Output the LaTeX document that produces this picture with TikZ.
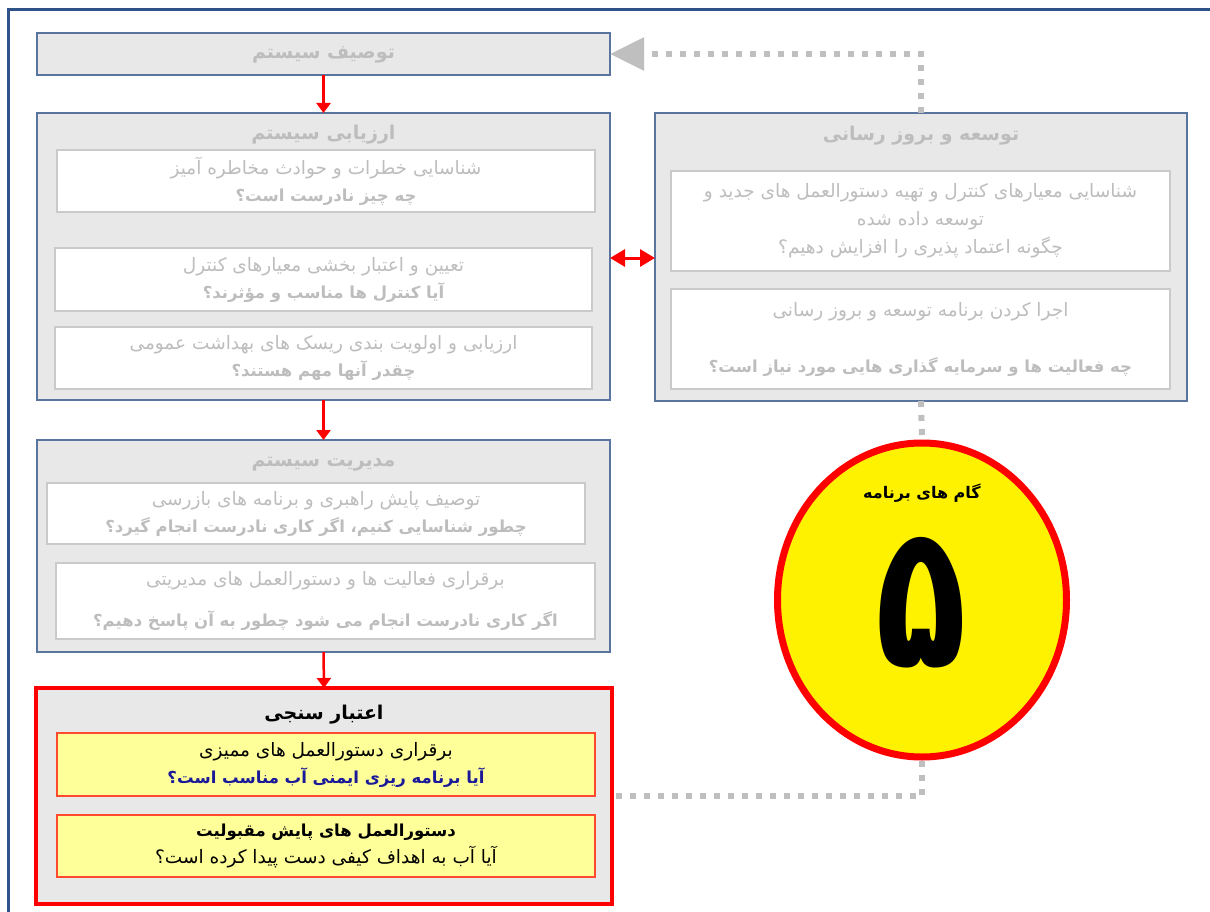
\documentclass[tikz,border=0pt]{standalone}
\usepackage{fontspec}
\usetikzlibrary{shapes.geometric,arrows.meta}
\TeXXeTstate=1
\newfontfamily\arabicfont[Script=Arabic]{DejaVu Sans}
\newcommand\fa[1]{\beginR #1\endR}
\newcommand\faq[1]{{\fontsize{16.5}{27}\selectfont\bfseries\beginR #1\endR}}
\definecolor{frameblue}{HTML}{2F5289}
\definecolor{boxborder}{HTML}{5A74A0}
\definecolor{boxfill}{HTML}{E8E8E8}
\definecolor{subborder}{HTML}{CACACA}
\definecolor{fadetext}{HTML}{BDBDBD}
\definecolor{dotgray}{HTML}{BFBFBF}
\definecolor{lightyellow}{HTML}{FFFF99}
\definecolor{navytext}{HTML}{1A1A99}
\definecolor{suborange}{HTML}{FF4A30}
\tikzset{
  bigbox/.style={draw=boxborder, line width=1.5pt, fill=boxfill, inner sep=0pt, outer sep=0pt},
  subbox/.style={draw=subborder, line width=1.8pt, fill=white, inner sep=0pt, outer sep=0pt,
    align=center, text=fadetext, font=\arabicfont\fontsize{18.5}{27}\selectfont},
  ybox/.style={draw=suborange, line width=1.6pt, fill=lightyellow, inner sep=0pt, outer sep=0pt,
    align=center, text=black, font=\arabicfont\fontsize{18.5}{27}\selectfont},
  boxtitle/.style={font=\arabicfont\fontsize{19}{22}\selectfont\bfseries, text=fadetext, inner sep=0pt},
  flow/.style={draw=red, line width=2.5pt, -{Triangle[length=10pt,width=14pt]}},
  dblflow/.style={draw=red, line width=3pt, {Triangle[length=15pt,width=17pt]}-{Triangle[length=15pt,width=17pt]}},
  dots/.style={draw=dotgray, line width=6pt, dash pattern=on 6pt off 8pt},
}
\begin{document}
\begin{tikzpicture}[x=1pt,y=-1pt]
\useasboundingbox (0,0) rectangle (1210,912);
% outer frame (top and left edges)
\draw[frameblue, line width=3pt] (8,912) -- (8,10) -- (1210,10);

% system description
\node[bigbox, minimum width=573pt, minimum height=42pt] (sysdesc) at (323.5,54) {};
\node[boxtitle] (sysdesctitle) at (323.5,55) {\fa{توصیف سیستم}};

% system assessment
\node[bigbox, minimum width=573pt, minimum height=287pt] (assess) at (323.5,256.5) {};
\node[boxtitle] (assesstitle) at (323.5,135) {\fa{ارزیابی سیستم}};
\node[subbox, minimum width=538pt, minimum height=62pt] (assess1) at (326,181)
  {\fa{شناسایی خطرات و حوادث مخاطره آمیز}\\\faq{چه چیز نادرست است؟}};
\node[subbox, minimum width=537pt, minimum height=63pt] (assess2) at (323.5,279.5)
  {\fa{تعیین و اعتبار بخشی معیارهای کنترل}\\\faq{آیا کنترل ها مناسب و مؤثرند؟}};
\node[subbox, minimum width=537pt, minimum height=62pt] (assess3) at (323.5,358)
  {\fa{ارزیابی و اولویت بندی ریسک های بهداشت عمومی}\\\faq{چقدر آنها مهم هستند؟}};

% system management
\node[bigbox, minimum width=573pt, minimum height=212pt] (manage) at (323.5,546) {};
\node[boxtitle] (managetitle) at (323.5,464) {\fa{مدیریت سیستم}};
\node[subbox, minimum width=538pt, minimum height=61pt] (manage1) at (316,513.5)
  {\fa{توصیف پایش راهبری و برنامه های بازرسی}\\\faq{چطور شناسایی کنیم، اگر کاری نادرست انجام گیرد؟}};
\node[subbox, minimum width=539pt, minimum height=76pt] (manage2) at (325.5,601)
  {\fa{برقراری فعالیت ها و دستورالعمل های مدیریتی}\\[14pt]\faq{اگر کاری نادرست انجام می شود چطور به آن پاسخ دهیم؟}};

% verification
\node[bigbox, draw=red, line width=4pt, minimum width=576pt, minimum height=216pt] (verify) at (324,796) {};
\node[boxtitle, text=black] (verifytitle) at (324,715) {\fa{اعتبار سنجی}};
\node[ybox, minimum width=538pt, minimum height=63pt] (verify1) at (326,764.5)
  {\fa{برقراری دستورالعمل های ممیزی}\\{\color{navytext}\faq{آیا برنامه ریزی ایمنی آب مناسب است؟}}};
\node[ybox, minimum width=538pt, minimum height=62pt] (verify2) at (326,846)
  {\faq{دستورالعمل های پایش مقبولیت}\\\fa{آیا آب به اهداف کیفی دست پیدا کرده است؟}};

% development and update
\node[bigbox, minimum width=532pt, minimum height=288pt] (dev) at (921,257) {};
\node[boxtitle] (devtitle) at (921,136) {\fa{توسعه و بروز رسانی}};
\node[subbox, minimum width=499pt, minimum height=100pt] (dev1) at (920.5,221)
  {\fa{شناسایی معیارهای کنترل و تهیه دستورالعمل های جدید و}\\[1pt]\fa{توسعه داده شده}\\[1pt]\fa{چگونه اعتماد پذیری را افزایش دهیم؟}};
\node[subbox, minimum width=499pt, minimum height=100pt] (dev2) at (920.5,339)
  {\fa{اجرا کردن برنامه توسعه و بروز رسانی}\\[29pt]\faq{چه فعالیت ها و سرمایه گذاری هایی مورد نیاز است؟}};

% programme steps circle
\node[ellipse, draw=red, line width=7pt, fill=yellow, minimum width=289pt, minimum height=314pt, inner sep=0pt] (steps) at (922,600) {};
\node[font=\arabicfont\fontsize{16}{20}\selectfont\bfseries, text=black] (stepslabel) at (922,493) {\fa{گام های برنامه}};
\node[font=\arabicfont\fontsize{150}{150}\selectfont\bfseries, text=black, inner sep=0pt] (stepsnum) at (921,603) {\scalebox{1}[1.34]{\fa{۵}}};

% connectors
\draw[flow] (sysdesc.south) -- (assess.north);
\draw[flow] (assess.south) -- (manage.north);
\draw[flow] (manage.south) -- (verify.north);
\coordinate (dblmid) at (633,258);
\draw[dblflow] (assess.east |- dblmid) -- (dev.west |- dblmid);
\draw[dots, -{Triangle[length=34pt,width=32pt,fill=dotgray]}] (dev.north) |- (sysdesc.east);
\draw[dots] (dev.south) -- (steps.north);
\draw[dots] (steps.south) |- (verify.east);
\end{tikzpicture}
\end{document}
